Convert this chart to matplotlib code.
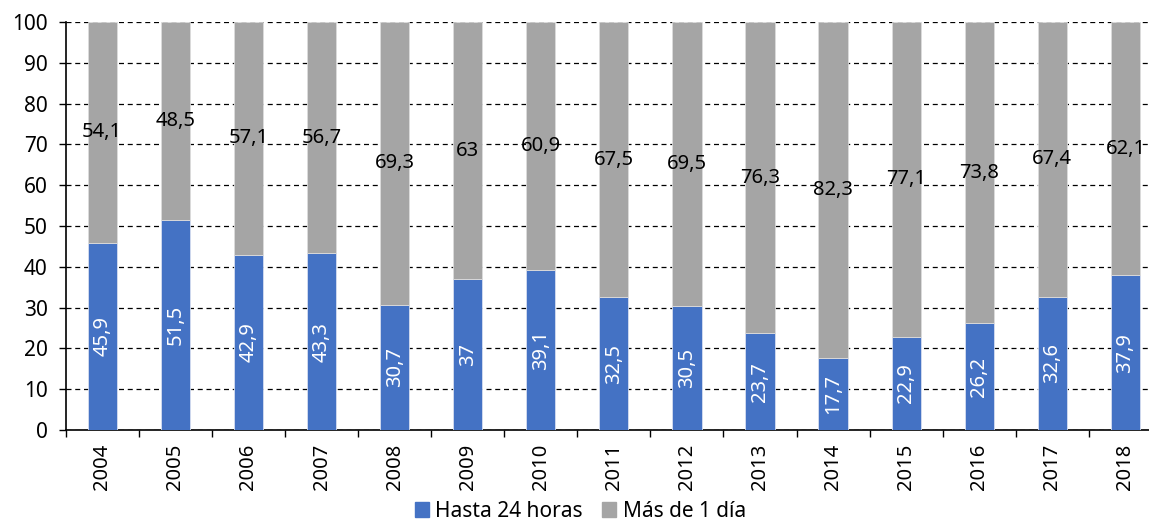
import matplotlib
matplotlib.use("Agg")
import matplotlib.pyplot as plt
from matplotlib.patches import Patch

years = ["2004", "2005", "2006", "2007", "2008", "2009", "2010", "2011",
         "2012", "2013", "2014", "2015", "2016", "2017", "2018"]
hasta_24h = [45.9, 51.5, 42.9, 43.3, 30.7, 37, 39.1, 32.5, 30.5, 23.7, 17.7, 22.9, 26.2, 32.6, 37.9]
mas_1dia = [54.1, 48.5, 57.1, 56.7, 69.3, 63, 60.9, 67.5, 69.5, 76.3, 82.3, 77.1, 73.8, 67.4, 62.1]
labels_hasta = ["45,9", "51,5", "42,9", "43,3", "30,7", "37", "39,1", "32,5", "30,5", "23,7", "17,7", "22,9", "26,2", "32,6", "37,9"]
labels_mas = ["54,1", "48,5", "57,1", "56,7", "69,3", "63", "60,9", "67,5", "69,5", "76,3", "82,3", "77,1", "73,8", "67,4", "62,1"]
series_names = ["Hasta 24 horas", "Más de 1 día"]

BLUE = "#4472C4"
GREY = "#A5A5A5"

plt.rcParams['font.family'] = ['Noto Sans', 'DejaVu Sans']

W, H = 1149, 525
fig = plt.figure(figsize=(W / 100, H / 100), dpi=100)
left, right, top, bottom = 65.7, 1162, 22, 430
ax = fig.add_axes([left / W, 1 - bottom / H, (right - left) / W, (bottom - top) / H])

x = list(range(len(years)))
bw = 0.4
ax.bar(x, hasta_24h, width=bw, color=BLUE, zorder=3, edgecolor="#D6DEF0", linewidth=0.6)
ax.bar(x, mas_1dia, width=bw, bottom=hasta_24h, color=GREY, zorder=3, edgecolor="#DCDCDC", linewidth=0.6)

FS = 14.5
for i in x:
    ax.text(i, hasta_24h[i] / 2, labels_hasta[i], rotation=90, ha="center", va="center",
            color="white", fontsize=FS, zorder=4)
    ax.text(i, hasta_24h[i] + mas_1dia[i] / 2, labels_mas[i], ha="center", va="center",
            color="black", fontsize=FS, zorder=4)

ax.set_xlim(-0.5, len(years) - 0.5)
ax.set_ylim(0, 100)
ax.set_yticks(range(0, 101, 10))
ax.yaxis.grid(True, linestyle=(0, (4, 3)), color="black", linewidth=0.9, zorder=0)
ax.set_axisbelow(True)

ax.set_xticks(x)
ax.set_xticklabels(years, rotation=90, fontsize=FS)
ax.set_xticks([i - 0.5 for i in range(len(years) + 1)], minor=True)
ax.tick_params(axis="x", which="major", length=0, pad=10)
ax.tick_params(axis="x", which="minor", length=5, width=1, direction="out")
ax.tick_params(axis="y", length=5, width=1, pad=8, labelsize=FS + 0.5)

for s in ["top", "right"]:
    ax.spines[s].set_visible(False)
ax.spines["left"].set_linewidth(1.2)
ax.spines["bottom"].set_linewidth(1.2)

handles = [Patch(color=BLUE), Patch(color=GREY)]
fig.legend(handles, series_names, loc="lower center", bbox_to_anchor=(0.505, -0.03),
           ncol=2, frameon=False, fontsize=FS + 0.5, handlelength=0.7, handleheight=0.7,
           handletextpad=0.3, columnspacing=0.9)

fig.savefig("out.png", dpi=100)
